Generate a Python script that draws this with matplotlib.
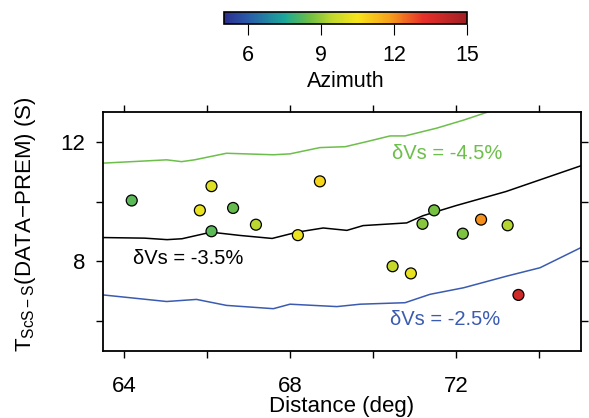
import numpy as np
import matplotlib
matplotlib.use("Agg")
import matplotlib.pyplot as plt
from matplotlib.colors import LinearSegmentedColormap, Normalize
from matplotlib.ticker import MultipleLocator

plt.rcParams['font.family'] = ['Liberation Sans', 'DejaVu Sans']
plt.rcParams['mathtext.fontset'] = 'custom'
plt.rcParams['mathtext.rm'] = 'Liberation Sans'
plt.rcParams['mathtext.it'] = 'Liberation Sans:italic'

# observed ScS-S residuals
dist = [64.19, 65.83, 66.11, 66.63, 66.11, 67.18, 68.19, 68.72,
        70.47, 70.91, 71.19, 71.47, 72.16, 72.60, 73.24, 73.50]
dt = [10.04, 9.71, 10.52, 9.79, 9.01, 9.23, 8.88, 10.68,
      7.84, 7.60, 9.26, 9.71, 8.93, 9.40, 9.21, 6.88]
azim = [8.3, 10.2, 10.0, 8.4, 8.3, 9.4, 10.3, 10.8,
        9.5, 10.2, 8.8, 8.6, 8.7, 12.0, 9.3, 13.8]

# synthetic curves for three dVs values
x_45 = [63.5, 65.03, 65.39, 65.7, 66.47, 67.6, 68.0, 68.72, 69.33, 69.85,
        70.41, 70.77, 71.53, 72.18, 72.74, 73.5, 75.0]
y_45 = [11.29, 11.4, 11.34, 11.4, 11.62, 11.57, 11.6, 11.81, 11.84, 12.01,
        12.2, 12.2, 12.46, 12.73, 12.99, 13.3, 14.0]

x_35 = [63.5, 64.5, 65.04, 65.4, 66.1, 66.8, 67.57, 68.17, 68.8, 69.37,
        69.76, 70.81, 71.2, 72.0, 73.2, 75.0]
y_35 = [8.8, 8.78, 8.73, 8.76, 8.98, 8.87, 8.77, 8.98, 9.12, 9.04,
        9.2, 9.29, 9.53, 9.87, 10.34, 11.2]

x_25 = [63.5, 65.03, 65.75, 66.47, 67.6, 68.0, 69.13, 69.69, 70.77, 71.37,
        72.18, 73.22, 74.02, 75.0]
y_25 = [6.88, 6.66, 6.73, 6.53, 6.42, 6.57, 6.49, 6.57, 6.62, 6.9,
        7.12, 7.51, 7.79, 8.46]

cmap = LinearSegmentedColormap.from_list("azi", [
    (0.0, "#2b2f8f"), (0.1, "#2a5caa"), (0.25, "#1aa99a"), (0.35, "#6cbd45"),
    (0.45, "#c5d92d"), (0.55, "#f7e51b"), (0.68, "#f7a21b"), (0.82, "#e8302a"),
    (1.0, "#a11f24")])
norm = Normalize(5, 15)

fig = plt.figure(figsize=(5.89, 4.18), dpi=100)
ax = fig.add_axes([0.175, 0.160, 0.811, 0.572])

ax.plot(x_45, y_45, color="#6cbf4a", lw=1.1)
ax.plot(x_35, y_35, color="black", lw=1.1)
ax.plot(x_25, y_25, color="#3a5bb0", lw=1.1)
sc = ax.scatter(dist, dt, c=azim, cmap=cmap, norm=norm, s=62,
                edgecolors="black", linewidths=0.9, zorder=3)

ax.text(71.78, 11.62, "δVs = -4.5%", color="#6cbf4a", fontsize=14.5,
        ha="center", va="center")
ax.text(65.55, 8.1, "δVs = -3.5%", color="black", fontsize=14.5,
        ha="center", va="center")
ax.text(71.73, 6.07, "δVs = -2.5%", color="#3a5bb0", fontsize=14.5,
        ha="center", va="center")

ax.set_xlim(63.5, 75.0)
ax.set_ylim(5, 13)
ax.xaxis.set_major_locator(MultipleLocator(4))
ax.xaxis.set_minor_locator(MultipleLocator(2))
ax.yaxis.set_major_locator(MultipleLocator(4))
ax.yaxis.set_minor_locator(MultipleLocator(2))
ax.tick_params(which="both", direction="out", length=5, width=1,
               top=True, right=True, labelsize=16)
ax.tick_params(axis="x", pad=13)
ax.tick_params(axis="y", pad=8)
for s in ax.spines.values():
    s.set_linewidth(1.3)

ax.set_xlabel("Distance (deg)", fontsize=16, labelpad=-1)
ax.set_ylabel(r"T$_{\rm ScS-S}$(DATA$-$PREM) (S)", fontsize=16)
ax.yaxis.set_label_coords(-0.137, 0.53)

cax = fig.add_axes([0.380, 0.943, 0.413, 0.029])
cb = fig.colorbar(sc, cax=cax, orientation="horizontal")
cb.set_ticks([6, 9, 12, 15])
cb.outline.set_linewidth(1.2)
cax.tick_params(direction="out", length=8, width=0.8, labelsize=15.5, pad=7)
cb.set_label("Azimuth", fontsize=15.5, labelpad=4)

plt.savefig("out.png", dpi=100)
